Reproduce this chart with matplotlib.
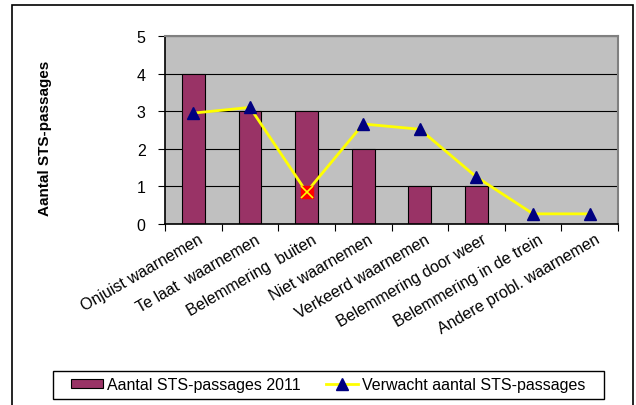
import matplotlib.pyplot as plt
import matplotlib.patches as patches
import numpy as np

categories = ['Onjuist waarnemen', 'Te laat  waarnemen', 'Belemmering  buiten', 'Niet waarnemen',
              'Verkeerd waarnemen', 'Belemmering door weer', 'Belemmering in de trein',
              'Andere probl. waarnemen']
actual_2011 = [4, 3, 3, 2, 1, 1, 0, 0]
expected = [2.95, 3.1, 0.85, 2.66, 2.52, 1.25, 0.27, 0.27]
highlight_idx = 2

plt.rcParams['font.family'] = ['Liberation Sans', 'DejaVu Sans']

W, H = 636, 406
fig = plt.figure(figsize=(W / 100, H / 100), dpi=100)

# outer chart border
fig.patches.append(patches.Rectangle((12 / W, -0.01), (633 - 12) / W, (H - 6) / H + 0.01,
                                     transform=fig.transFigure, fill=False,
                                     edgecolor='black', linewidth=1.2))

ax = fig.add_axes([165 / W, (H - 225) / H, (618 - 165) / W, (225 - 37) / H])
ax.set_facecolor('#C0C0C0')

x = np.arange(len(categories))
bars = ax.bar(x, actual_2011, width=0.4, color='#993366', edgecolor='black', linewidth=0.8,
              label='Aantal STS-passages 2011', zorder=2)

mark = [i for i in range(len(x)) if i != highlight_idx]
line, = ax.plot(x, expected, color='#FFFF00', linewidth=2, marker='^', markersize=8,
                markerfacecolor='#000080', markeredgecolor='#000080', markevery=mark,
                label='Verwacht aantal STS-passages', zorder=3)
ax.plot(x[highlight_idx], expected[highlight_idx], marker='s', markersize=8,
        markerfacecolor='#FF0000', markeredgecolor='#FF0000', zorder=4)
ax.plot(x[highlight_idx], expected[highlight_idx], marker='x', markersize=8,
        markeredgecolor='#FFFF00', markeredgewidth=1.2, zorder=5)

ax.set_xlim(-0.5, len(categories) - 0.5)
ax.set_ylim(0, 5)
ax.set_yticks(range(6))
ax.yaxis.grid(True, color='black', linewidth=0.8)
ax.set_axisbelow(True)

ax.set_xticks(np.arange(-0.5, len(categories), 1.0))
ax.set_xticklabels([])
ax.tick_params(axis='x', direction='out', length=5, color='black')
ax.tick_params(axis='y', direction='out', length=5, color='black', labelsize=11.5, pad=9)

for i, lab in enumerate(categories):
    ax.text(i + 0.15, -0.37, lab, rotation=30, rotation_mode='anchor', ha='right', va='center',
            fontsize=11.5, transform=ax.transData)

for s in ['top', 'right']:
    ax.spines[s].set_color('#808080')
    ax.spines[s].set_linewidth(1.5)
for s in ['left', 'bottom']:
    ax.spines[s].set_color('black')
    ax.spines[s].set_linewidth(1.2)

fig.text(45 / W, (H - 138) / H, 'Aantal STS-passages', rotation=90, ha='center', va='center',
         fontsize=11, fontweight='bold')

# legend frame drawn separately (wider than its content, like the original)
fig.patches.append(patches.Rectangle((53 / W, (H - 400) / H), (604 - 53) / W, 28 / H,
                                     transform=fig.transFigure, fill=False,
                                     edgecolor='black', linewidth=1.0))
leg = fig.legend([bars, line], ['Aantal STS-passages 2011', 'Verwacht aantal STS-passages'],
                 loc='center', bbox_to_anchor=(328 / W, (H - 386) / H),
                 ncol=2, frameon=False, fontsize=11.5, handlelength=2.0,
                 handleheight=0.5, columnspacing=1.6, borderaxespad=0, handletextpad=0.25,
                 borderpad=0.2)

fig.savefig('out.png', dpi=100)
